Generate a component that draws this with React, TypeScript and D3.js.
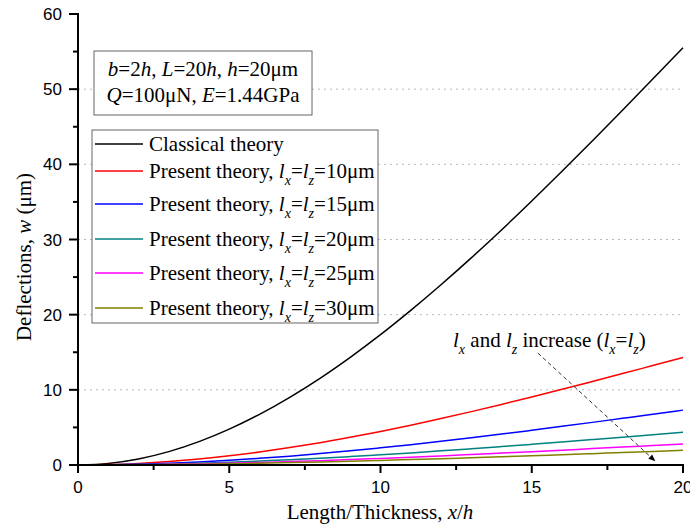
import React from 'react';
import * as d3 from 'd3';

// x/h positions
const xs = [0, 1, 2, 3, 4, 5, 6, 7, 8, 9, 10, 11, 12, 13, 14, 15, 16, 17, 18, 19, 20];

// deflections (µm)
const classical = [0, 0.21, 0.8, 1.78, 3.11, 4.77, 6.74, 9.01, 11.54, 14.33, 17.34, 20.57, 23.98, 27.55, 31.27, 35.12, 39.07, 43.11, 47.2, 51.34, 55.5];
const l10 = [0, 0.05, 0.21, 0.46, 0.8, 1.23, 1.74, 2.32, 2.97, 3.69, 4.47, 5.3, 6.18, 7.1, 8.06, 9.05, 10.07, 11.11, 12.16, 13.23, 14.3];
const l15 = [0, 0.03, 0.11, 0.23, 0.41, 0.63, 0.89, 1.18, 1.52, 1.88, 2.28, 2.7, 3.15, 3.62, 4.11, 4.62, 5.14, 5.67, 6.21, 6.75, 7.3];
const l20 = [0, 0.02, 0.06, 0.14, 0.24, 0.37, 0.53, 0.71, 0.9, 1.12, 1.36, 1.61, 1.88, 2.16, 2.45, 2.75, 3.06, 3.38, 3.7, 4.03, 4.35];
const l25 = [0, 0.01, 0.04, 0.09, 0.16, 0.24, 0.34, 0.46, 0.58, 0.72, 0.88, 1.04, 1.21, 1.39, 1.58, 1.77, 1.97, 2.18, 2.38, 2.59, 2.8];
const l30 = [0, 0.01, 0.03, 0.06, 0.11, 0.17, 0.24, 0.32, 0.41, 0.5, 0.61, 0.72, 0.84, 0.97, 1.1, 1.23, 1.37, 1.51, 1.66, 1.8, 1.95];

const seriesNames = ['Classical theory', '10', '15', '20', '25', '30'];
const seriesColors = ['#000000', '#ff0000', '#0000ff', '#008080', '#ff00ff', '#808000'];
const seriesValues = [classical, l10, l15, l20, l25, l30];

const xTicks = [0, 5, 10, 15, 20];
const yTicks = [0, 10, 20, 30, 40, 50, 60];
const gridTicks = [10, 20, 30, 40, 50];

const SERIF = '"Liberation Serif", "Times New Roman", serif';
const SANS = '"Liberation Sans", Arial, sans-serif';

export default function App() {
  const width = 690, height = 528;
  const x = d3.scaleLinear().domain([0, 20]).range([78, 683]);
  const y = d3.scaleLinear().domain([0, 60]).range([465, 14]);

  const line = d3.line<number>()
    .x((d, i) => x(xs[i]))
    .y(d => y(d))
    .curve(d3.curveMonotoneX);

  const minorX = d3.range(0, 20.01, 2.5).filter(v => v % 5 !== 0);
  const minorY = d3.range(0, 60.01, 5).filter(v => v % 10 !== 0);

  const legendRows = [144, 171, 204, 239, 273, 308];

  return (
    <svg width={width} height={height} style={{ position: 'absolute', left: 0, top: 0, background: '#fff' }}>
      <defs>
        <marker id="arr" viewBox="0 0 10 10" refX="9" refY="5" markerWidth="7" markerHeight="7" orient="auto">
          <path d="M0,1 L10,5 L0,9 z" fill="#000" />
        </marker>
      </defs>

      {/* grid */}
      {gridTicks.map(t => (
        <line key={t} x1={x(0)} x2={x(20)} y1={y(t)} y2={y(t)} stroke="#b8b8b8" strokeWidth={1} strokeDasharray="2,4" />
      ))}

      {/* curves */}
      {seriesValues.map((vals, i) => (
        <path key={i} d={line(vals) || ''} fill="none" stroke={seriesColors[i]} strokeWidth={1.5} />
      ))}

      {/* axes */}
      <line x1={x(0)} x2={x(0)} y1={y(60) - 1} y2={y(0) + 8} stroke="#000" strokeWidth={2} />
      <line x1={x(0)} x2={x(20) + 1} y1={y(0)} y2={y(0)} stroke="#000" strokeWidth={2} />
      {yTicks.map(t => (
        <g key={'y' + t}>
          <line x1={x(0) - 9} x2={x(0)} y1={y(t)} y2={y(t)} stroke="#000" strokeWidth={2} />
          <text x={62} y={y(t) + 6} textAnchor="end" fontFamily={SANS} fontSize={17}>{t}</text>
        </g>
      ))}
      {minorY.map(t => (
        <line key={'my' + t} x1={x(0) - 5} x2={x(0)} y1={y(t)} y2={y(t)} stroke="#000" strokeWidth={2} />
      ))}
      {xTicks.map(t => (
        <g key={'x' + t}>
          <line x1={x(t)} x2={x(t)} y1={y(0)} y2={y(0) + 8} stroke="#000" strokeWidth={2} />
          <text x={x(t)} y={493} textAnchor="middle" fontFamily={SANS} fontSize={17}>{t}</text>
        </g>
      ))}
      {minorX.map(t => (
        <line key={'mx' + t} x1={x(t)} x2={x(t)} y1={y(0)} y2={y(0) + 5} stroke="#000" strokeWidth={2} />
      ))}

      {/* axis titles */}
      <text x={380} y={519} textAnchor="middle" fontFamily={SERIF} fontSize={21}>
        Length/Thickness, <tspan fontStyle="italic">x</tspan>/<tspan fontStyle="italic">h</tspan>
      </text>
      <text transform="translate(31,257) rotate(-90)" textAnchor="middle" fontFamily={SERIF} fontSize={21}>
        Deflections, <tspan fontStyle="italic">w</tspan> (μm)
      </text>

      {/* parameter box */}
      <rect x={94} y={51} width={218} height={64} fill="#fff" stroke="#666" strokeWidth={1} />
      <text x={203} y={76} textAnchor="middle" fontFamily={SERIF} fontSize={21}>
        <tspan fontStyle="italic">b</tspan>=2<tspan fontStyle="italic">h</tspan>, <tspan fontStyle="italic">L</tspan>=20<tspan fontStyle="italic">h</tspan>, <tspan fontStyle="italic">h</tspan>=20μm
      </text>
      <text x={203} y={102} textAnchor="middle" fontFamily={SERIF} fontSize={21}>
        <tspan fontStyle="italic">Q</tspan>=100μN, <tspan fontStyle="italic">E</tspan>=1.44GPa
      </text>

      {/* legend */}
      <rect x={92} y={130} width={286} height={193} fill="#fff" stroke="#666" strokeWidth={1} />
      {seriesNames.map((name, i) => (
        <g key={name}>
          <line x1={95} x2={143} y1={legendRows[i]} y2={legendRows[i]} stroke={seriesColors[i]} strokeWidth={1.5} />
          <text x={149} y={legendRows[i] + 7} fontFamily={SERIF} fontSize={21}>
            {i === 0 ? name : (
              <>
                Present theory, <tspan fontStyle="italic">l</tspan>
                <tspan fontStyle="italic" fontSize={14} dy={7}>x</tspan>
                <tspan dy={-7}>=</tspan><tspan fontStyle="italic">l</tspan>
                <tspan fontStyle="italic" fontSize={14} dy={7}>z</tspan>
                <tspan dy={-7}>={name}μm</tspan>
              </>
            )}
          </text>
        </g>
      ))}

      {/* annotation */}
      <text x={453} y={347} fontFamily={SERIF} fontSize={21}>
        <tspan fontStyle="italic">l</tspan>
        <tspan fontStyle="italic" fontSize={14} dy={7}>x</tspan>
        <tspan dy={-7}> and </tspan><tspan fontStyle="italic">l</tspan>
        <tspan fontStyle="italic" fontSize={14} dy={7}>z</tspan>
        <tspan dy={-7}> increase (</tspan><tspan fontStyle="italic">l</tspan>
        <tspan fontStyle="italic" fontSize={14} dy={7}>x</tspan>
        <tspan dy={-7}>=</tspan><tspan fontStyle="italic">l</tspan>
        <tspan fontStyle="italic" fontSize={14} dy={7}>z</tspan>
        <tspan dy={-7}>)</tspan>
      </text>
      <line x1={x(15.2)} y1={y(14.9)} x2={x(19.07)} y2={y(0.55)} stroke="#333" strokeWidth={1} strokeDasharray="4,3" markerEnd="url(#arr)" />
    </svg>
  );
}
